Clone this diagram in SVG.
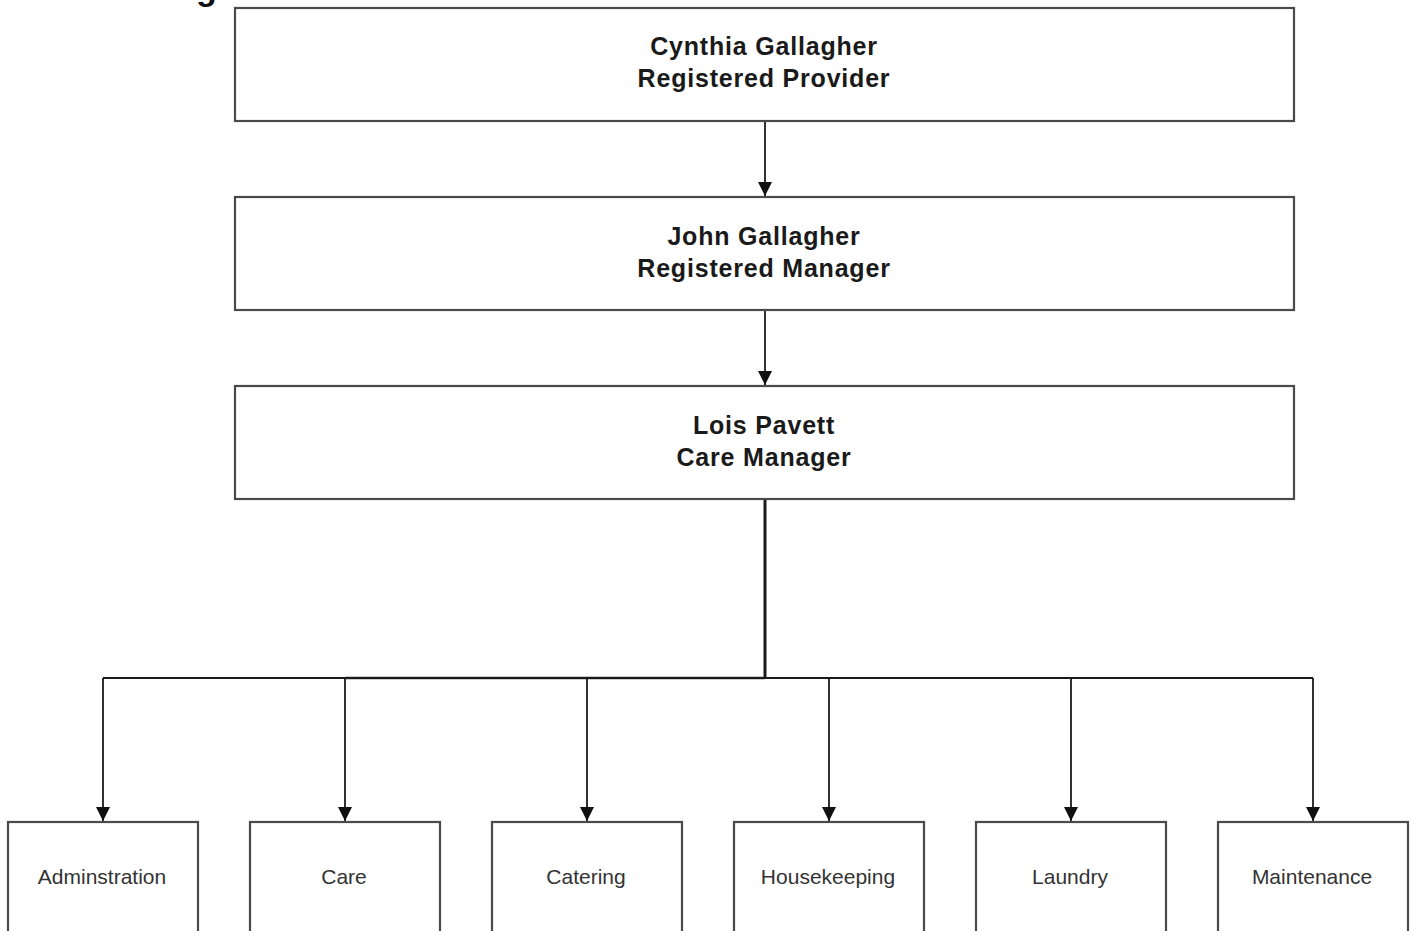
<svg xmlns="http://www.w3.org/2000/svg" width="1413" height="931" viewBox="0 0 1413 931">
<style>
.box{fill:#fff;stroke:#4a4a4a;stroke-width:2.2}
.t{font-family:"Liberation Sans",Arial,sans-serif;font-weight:bold;font-size:25px;letter-spacing:0.8px;fill:#1a1a1a;text-anchor:middle}
.s{font-family:"Liberation Sans",Arial,sans-serif;font-size:21px;fill:#333;text-anchor:middle}
.c{fill:none;stroke:#1a1a1a;stroke-width:1.8}
.title{font-family:"Liberation Sans",Arial,sans-serif;font-weight:bold;font-size:34px;fill:#111}
</style>
<defs>
<marker id="arr" markerWidth="15" markerHeight="14" refX="14" refY="7" orient="auto" markerUnits="userSpaceOnUse">
<path d="M0,0 L14,7 L0,14 Z" fill="#111"/>
</marker>
</defs>
<rect width="1413" height="931" fill="#fff"/>
<text class="title" x="196" y="0">g</text>
<g id="connectors">
<path class="c" d="M765,121 V196" marker-end="url(#arr)"/>
<path class="c" d="M765,310 V385" marker-end="url(#arr)"/>
<path class="c" d="M765,499 V678" style="stroke-width:3"/>
<path class="c" d="M345,678 H765" style="stroke-width:2.6;stroke:#333"/>
<path class="c" d="M103,678 H1313"/>
<path class="c" d="M103,678 V821" marker-end="url(#arr)"/>
<path class="c" d="M345,678 V821" marker-end="url(#arr)"/>
<path class="c" d="M587,678 V821" marker-end="url(#arr)"/>
<path class="c" d="M829,678 V821" marker-end="url(#arr)"/>
<path class="c" d="M1071,678 V821" marker-end="url(#arr)"/>
<path class="c" d="M1313,678 V821" marker-end="url(#arr)"/>
</g>
<g id="n-provider">
<rect class="box" x="235" y="8" width="1059" height="113"/>
<text class="t" x="764" y="55">Cynthia Gallagher</text>
<text class="t" x="764" y="87">Registered Provider</text>
</g>
<g id="n-manager">
<rect class="box" x="235" y="197" width="1059" height="113"/>
<text class="t" x="764" y="245">John Gallagher</text>
<text class="t" x="764" y="277">Registered Manager</text>
</g>
<g id="n-care-manager">
<rect class="box" x="235" y="386" width="1059" height="113"/>
<text class="t" x="764" y="434">Lois Pavett</text>
<text class="t" x="764" y="466">Care Manager</text>
</g>
<g id="n-admin">
<rect class="box" x="8" y="822" width="190" height="130"/>
<text class="s" x="102" y="884">Adminstration</text>
</g>
<g id="n-care">
<rect class="box" x="250" y="822" width="190" height="130"/>
<text class="s" x="344" y="884">Care</text>
</g>
<g id="n-catering">
<rect class="box" x="492" y="822" width="190" height="130"/>
<text class="s" x="586" y="884">Catering</text>
</g>
<g id="n-housekeeping">
<rect class="box" x="734" y="822" width="190" height="130"/>
<text class="s" x="828" y="884">Housekeeping</text>
</g>
<g id="n-laundry">
<rect class="box" x="976" y="822" width="190" height="130"/>
<text class="s" x="1070" y="884">Laundry</text>
</g>
<g id="n-maintenance">
<rect class="box" x="1218" y="822" width="190" height="130"/>
<text class="s" x="1312" y="884">Maintenance</text>
</g>
</svg>
